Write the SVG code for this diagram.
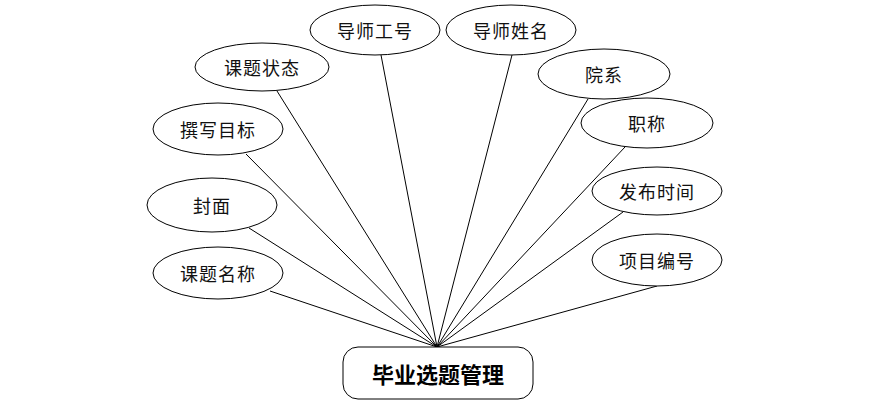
<svg xmlns="http://www.w3.org/2000/svg" width="876" height="408" viewBox="0 0 876 408">
<style>
.e{fill:#fff;stroke:#000;stroke-width:1}
.t{font-family:"Noto Sans CJK SC",sans-serif;font-size:18px;fill:#111;text-anchor:middle;dominant-baseline:central;letter-spacing:1px}
.c line{stroke:#000;stroke-width:1}
</style>
<rect width="876" height="408" fill="#fff"/>
<g class="c" id="connectors">
<line x1="437" y1="347" x2="270" y2="291"/>
<line x1="437" y1="347" x2="249" y2="228"/>
<line x1="437" y1="347" x2="246" y2="154"/>
<line x1="437" y1="347" x2="277" y2="91"/>
<line x1="437" y1="347" x2="381" y2="55"/>
<line x1="437" y1="347" x2="512" y2="55"/>
<line x1="437" y1="347" x2="588" y2="99"/>
<line x1="437" y1="347" x2="625" y2="147"/>
<line x1="437" y1="347" x2="623" y2="212"/>
<line x1="437" y1="347" x2="657" y2="286"/>
</g>
<g id="n-gonghao"><ellipse class="e" cx="375" cy="30" rx="65" ry="25"/><text class="t" x="375" y="30">导师工号</text></g>
<g id="n-xingming"><ellipse class="e" cx="511" cy="30" rx="65" ry="25"/><text class="t" x="511" y="30">导师姓名</text></g>
<g id="n-zhuangtai"><ellipse class="e" cx="262" cy="67" rx="67" ry="24"/><text class="t" x="262" y="67">课题状态</text></g>
<g id="n-mubiao"><ellipse class="e" cx="218" cy="129" rx="65" ry="26"/><text class="t" x="218" y="129">撰写目标</text></g>
<g id="n-fengmian"><ellipse class="e" cx="212" cy="205" rx="65" ry="27"/><text class="t" x="212" y="205">封面</text></g>
<g id="n-mingcheng"><ellipse class="e" cx="218" cy="273" rx="65" ry="26"/><text class="t" x="218" y="273">课题名称</text></g>
<g id="n-yuanxi"><ellipse class="e" cx="604" cy="74" rx="66" ry="25"/><text class="t" x="604" y="74">院系</text></g>
<g id="n-zhicheng"><ellipse class="e" cx="647" cy="123" rx="66" ry="25"/><text class="t" x="647" y="123">职称</text></g>
<g id="n-shijian"><ellipse class="e" cx="657" cy="191" rx="65" ry="24"/><text class="t" x="657" y="191">发布时间</text></g>
<g id="n-bianhao"><ellipse class="e" cx="657" cy="260" rx="65" ry="26"/><text class="t" x="657" y="260">项目编号</text></g>
<g id="n-main"><rect x="343" y="347" width="190" height="52" rx="15" ry="15" fill="#fff" stroke="#000" stroke-width="1"/><text x="438" y="373" font-family="Noto Sans CJK SC,sans-serif" font-size="22" font-weight="bold" fill="#000" text-anchor="middle" dominant-baseline="central">毕业选题管理</text></g>
</svg>
